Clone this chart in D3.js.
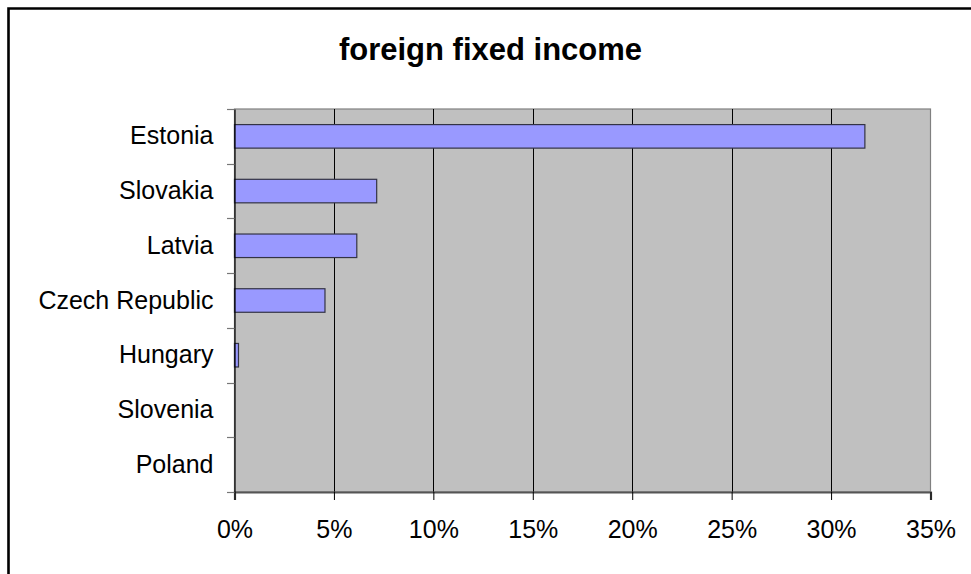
<!DOCTYPE html>
<html>
<head>
<meta charset="utf-8">
<script src="https://cdn.jsdelivr.net/npm/d3@7"></script>
<style>
  html, body { margin: 0; padding: 0; background: #fff; }
  svg { display: block; font-family: Arial, "Liberation Sans", sans-serif; }
</style>
</head>
<body>
<svg id="chart" width="971" height="574"></svg>
<script>
// Share of foreign fixed income, by country (%)
const countries = ["Estonia", "Slovakia", "Latvia", "Czech Republic", "Hungary", "Slovenia", "Poland"];
const shares = [31.7, 7.15, 6.15, 4.55, 0.2, 0, 0];
const xTicks = [0, 5, 10, 15, 20, 25, 30, 35];
const title = "foreign fixed income";

const svg = d3.select("#chart");
const plot = { left: 234.5, right: 930.5, top: 109, bottom: 492 };

const x = d3.scaleLinear().domain([0, 35]).range([plot.left, plot.right]);
const y = d3.scaleBand().domain(countries).range([plot.top, plot.bottom]);
const barH = y.bandwidth() * 0.43;

// outer chart frame (left and top edges)
svg.append("path")
  .attr("d", `M8.5,${574 + 5} V8.5 H${971 + 5}`)
  .attr("fill", "none").attr("stroke", "#000").attr("stroke-width", 2.6);

// title
svg.append("text")
  .attr("x", 490.5).attr("y", 59.5)
  .attr("text-anchor", "middle")
  .attr("font-size", 31).attr("font-weight", "bold")
  .attr("fill", "#000")
  .text(title);

// plot background
svg.append("rect")
  .attr("x", plot.left).attr("y", plot.top)
  .attr("width", plot.right - plot.left).attr("height", plot.bottom - plot.top)
  .attr("fill", "#c0c0c0").attr("stroke", "#808080").attr("stroke-width", 1.2);

// vertical gridlines
svg.append("g").selectAll("line")
  .data(xTicks.filter(d => d > 0 && d < 35))
  .join("line")
  .attr("x1", d => Math.round(x(d)) + 0.5).attr("x2", d => Math.round(x(d)) + 0.5)
  .attr("y1", plot.top).attr("y2", plot.bottom)
  .attr("stroke", "#000").attr("stroke-width", 1);

// bars
svg.append("g").selectAll("rect")
  .data(countries.map((c, i) => ({ c, v: shares[i] })).filter(d => d.v > 0))
  .join("rect")
  .attr("x", x(0))
  .attr("y", d => y(d.c) + (y.bandwidth() - barH) / 2)
  .attr("width", d => x(d.v) - x(0))
  .attr("height", barH)
  .attr("fill", "#9999ff").attr("stroke", "#333344").attr("stroke-width", 1.2);

// x axis
const xAxis = d3.axisBottom(x).tickValues(xTicks).tickFormat(d => d + "%").tickSize(8).tickPadding(20);
const gx = svg.append("g").attr("transform", `translate(0,${plot.bottom})`).call(xAxis);
gx.select(".domain").attr("stroke", "#555").attr("stroke-width", 2.2);
gx.selectAll(".tick line").attr("stroke", "#000");
gx.selectAll(".tick text").attr("font-size", 25).attr("fill", "#000").attr("font-family", "Arial, 'Liberation Sans', sans-serif");

// y axis: ticks at category boundaries
const yAxis = d3.axisLeft(y).tickSize(0).tickPadding(21);
const gy = svg.append("g").attr("transform", `translate(${plot.left},0)`).call(yAxis);
gy.select(".domain").attr("stroke", "#000").attr("stroke-width", 1.2);
gy.selectAll(".tick text").attr("font-size", 25).attr("fill", "#000").attr("font-family", "Arial, 'Liberation Sans', sans-serif");

const bounds = countries.map(c => y(c)).concat([y.range()[1]]);
svg.append("g").selectAll("line")
  .data(bounds)
  .join("line")
  .attr("x1", plot.left - 7.5).attr("x2", plot.left)
  .attr("y1", d => Math.round(d) + 0.5).attr("y2", d => Math.round(d) + 0.5)
  .attr("stroke", "#777").attr("stroke-width", 1.2);
</script>
</body>
</html>
